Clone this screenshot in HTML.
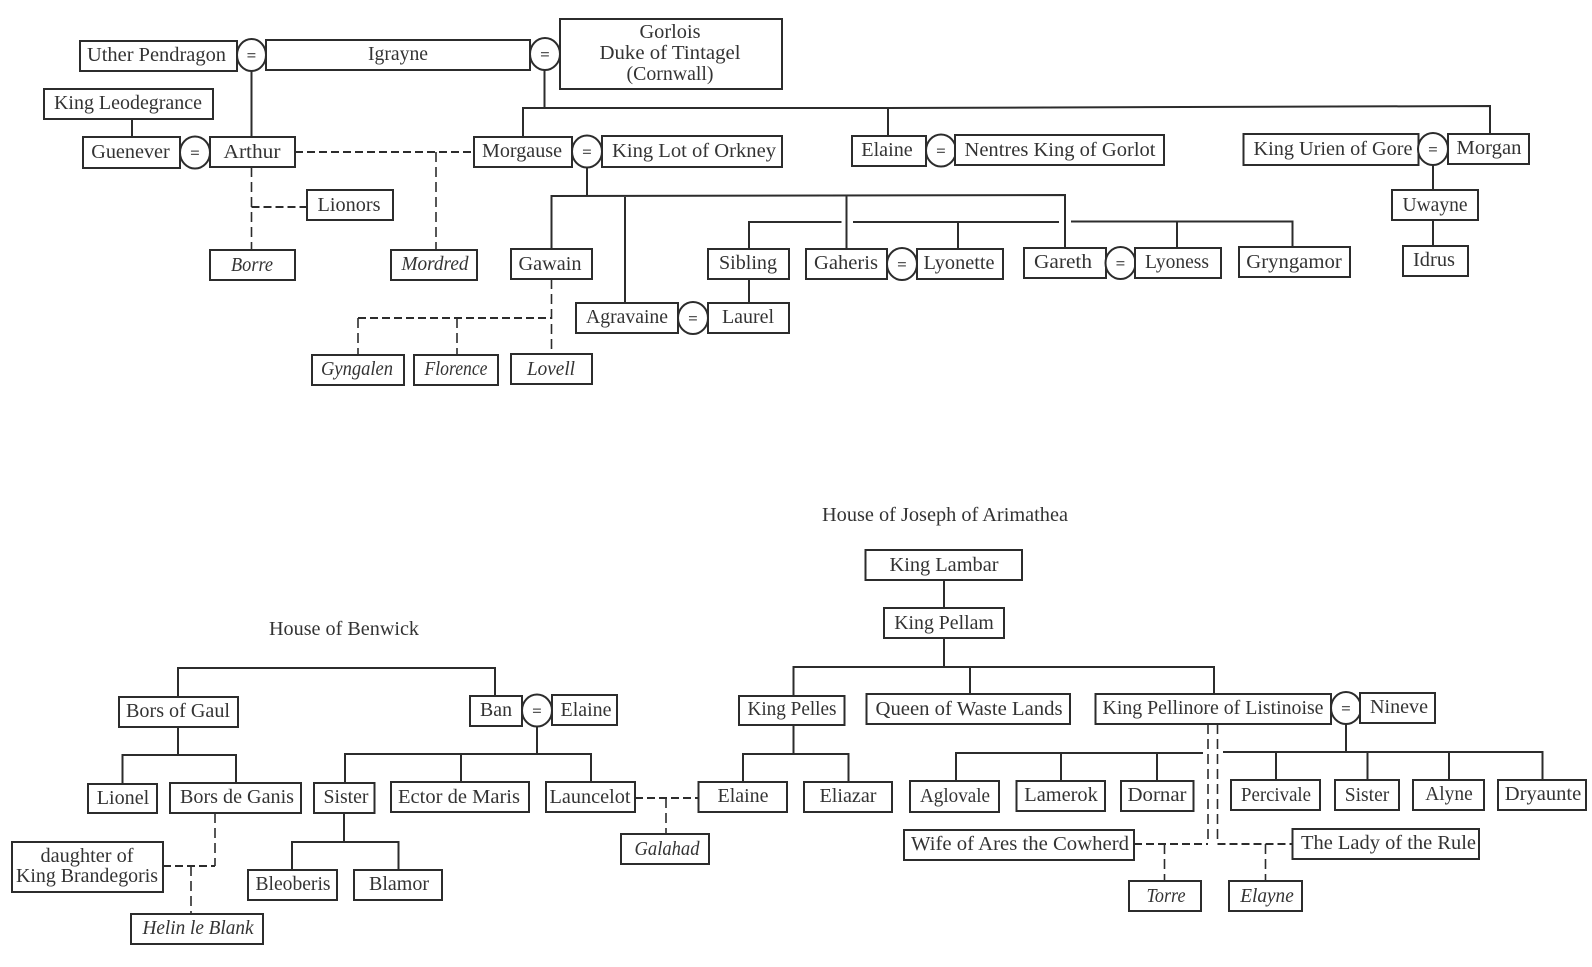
<!DOCTYPE html>
<html><head><meta charset="utf-8"><title>Arthurian family trees</title>
<style>
html,body{margin:0;padding:0;background:#fff;width:1592px;height:967px;overflow:hidden}
svg{display:block;filter:blur(.35px)}
text{font-family:"Liberation Serif",serif;font-size:20px;fill:#333;text-anchor:middle}
.i{font-style:italic}
.e{font-size:17px;font-weight:bold;fill:#555}
rect{fill:#fff;stroke:#2c2c2c;stroke-width:2}
ellipse{fill:#fff;stroke:#2c2c2c;stroke-width:2}
path{fill:none;stroke:#2c2c2c;stroke-width:2}
.d{stroke-dasharray:8 4}
.v{stroke-dasharray:10 5;stroke-width:1.6}
</style></head><body>
<svg width="1592" height="967" viewBox="0 0 1592 967" xmlns="http://www.w3.org/2000/svg">
<!-- solid connectors: top tree -->
<path d="M251.5 71V137M132 119V137M544.5 70V108M523 137V108L888 108L1490 106V133M888 108V136"/>
<path d="M587 167V196M551.5 249V196L1065 195V248M625 196V303M846.5 196V249"/>
<path d="M749 249V222H841.5M853 222H1059M1071 221.500H1292.500V247M958 222V248M1177 221.500V248M749 279V303"/>
<path d="M1433 164V190M1433 220V246"/>
<!-- dashed: top tree -->
<path class="d" d="M295 152H474"/>
<path class="v" d="M436 152V250"/>
<path class="v" d="M251.500 167V250"/>
<path class="d" d="M251.500 207H307"/>
<path class="v" d="M551.500 279V354"/>
<path class="d" d="M358 318H551.500"/>
<path class="v" d="M358 318V355M457 318V355"/>
<!-- Benwick connectors -->
<path d="M178 697V668H495V696M178 727V755M122.500 784V755H236V783"/>
<path d="M537 726V754M345 783V754H591V782M461 754V782M344 813V842M292 870V842H398.500V870"/>
<path class="v" d="M215 813V866M191 866V914"/>
<path class="d" d="M163 866H215"/>
<path class="d" d="M635 798H698"/>
<path class="v" d="M666 798V834"/>
<!-- Arimathea connectors -->
<path d="M944 580V608M944 638V667M793.500 696V667H1214V694M970 667V694"/>
<path d="M793.500 725V754M743 782V754H848.500V782"/>
<path d="M1346 723V752M1223 752H1542.500V780M1276 752V780M1367.500 752V780M1449 752V780"/>
<path d="M1203 753H956V781M1061 753V781M1157 753V781"/>
<path class="v" d="M1208 724V844M1217.500 724V844"/>
<path class="d" d="M1134 844H1208M1217.500 844H1292.500"/>
<path class="v" d="M1164.500 844V881M1265.500 844V881"/>

<!-- top tree boxes -->
<rect x="80" y="41" width="157" height="30"/><text x="156.500" y="61" textLength="139" lengthAdjust="spacingAndGlyphs">Uther Pendragon</text>
<ellipse cx="251.500" cy="55" rx="14.500" ry="16"/><text class="e" x="251.500" y="61">=</text>
<rect x="266" y="40" width="264" height="30"/><text x="398" y="60" textLength="60" lengthAdjust="spacingAndGlyphs">Igrayne</text>
<ellipse cx="545" cy="54" rx="15" ry="16"/><text class="e" x="545" y="60">=</text>
<rect x="560" y="19" width="222" height="70"/>
<text x="670" y="38" textLength="61" lengthAdjust="spacingAndGlyphs">Gorlois</text>
<text x="670" y="59" textLength="141" lengthAdjust="spacingAndGlyphs">Duke of Tintagel</text>
<text x="670" y="80" textLength="87" lengthAdjust="spacingAndGlyphs">(Cornwall)</text>
<rect x="44" y="89" width="169" height="30"/><text x="128" y="109" textLength="148" lengthAdjust="spacingAndGlyphs">King Leodegrance</text>
<rect x="83" y="137" width="97" height="31"/><text x="130.500" y="158" textLength="78.500" lengthAdjust="spacingAndGlyphs">Guenever</text>
<ellipse cx="195" cy="152.500" rx="15" ry="16"/><text class="e" x="195" y="158.500">=</text>
<rect x="210" y="137" width="85" height="30"/><text x="252" y="158" textLength="57" lengthAdjust="spacingAndGlyphs">Arthur</text>
<rect x="474" y="137" width="98" height="30"/><text x="522" y="157" textLength="80" lengthAdjust="spacingAndGlyphs">Morgause</text>
<ellipse cx="587" cy="151.500" rx="15" ry="16"/><text class="e" x="587" y="157.500">=</text>
<rect x="602" y="136" width="180" height="31"/><text x="694" y="157" textLength="164" lengthAdjust="spacingAndGlyphs">King Lot of Orkney</text>
<rect x="852" y="136" width="74" height="30"/><text x="887" y="156" textLength="51.500" lengthAdjust="spacingAndGlyphs">Elaine</text>
<ellipse cx="941" cy="150.500" rx="15" ry="16"/><text class="e" x="941" y="156.500">=</text>
<rect x="955" y="135" width="209" height="30"/><text x="1060" y="156" textLength="191" lengthAdjust="spacingAndGlyphs">Nentres King of Gorlot</text>
<rect x="1243.500" y="134" width="175" height="31"/><text x="1333" y="155" textLength="159" lengthAdjust="spacingAndGlyphs">King Urien of Gore</text>
<ellipse cx="1433" cy="149" rx="15" ry="16"/><text class="e" x="1433" y="155">=</text>
<rect x="1448" y="134" width="81" height="30"/><text x="1489" y="154" textLength="65" lengthAdjust="spacingAndGlyphs">Morgan</text>
<rect x="307" y="190" width="86" height="30"/><text x="349" y="211" textLength="63" lengthAdjust="spacingAndGlyphs">Lionors</text>
<rect x="1392" y="190" width="86" height="30"/><text x="1435" y="211" textLength="65" lengthAdjust="spacingAndGlyphs">Uwayne</text>
<rect x="1403" y="246" width="65" height="30"/><text x="1434" y="266" textLength="42" lengthAdjust="spacingAndGlyphs">Idrus</text>
<rect x="210" y="250" width="85" height="30"/><text class="i" x="252" y="271" textLength="42" lengthAdjust="spacingAndGlyphs">Borre</text>
<rect x="391" y="250" width="86" height="30"/><text class="i" x="435" y="270" textLength="67" lengthAdjust="spacingAndGlyphs">Mordred</text>
<rect x="511" y="249" width="81" height="30"/><text x="550" y="270" textLength="63" lengthAdjust="spacingAndGlyphs">Gawain</text>
<rect x="708" y="249" width="81" height="30"/><text x="748" y="269" textLength="58" lengthAdjust="spacingAndGlyphs">Sibling</text>
<rect x="806" y="249" width="81" height="30"/><text x="846" y="269" textLength="64" lengthAdjust="spacingAndGlyphs">Gaheris</text>
<ellipse cx="902" cy="264" rx="15" ry="16"/><text class="e" x="902" y="270">=</text>
<rect x="917" y="249" width="86" height="30"/><text x="959" y="269" textLength="71" lengthAdjust="spacingAndGlyphs">Lyonette</text>
<rect x="1024" y="248" width="82" height="30"/><text x="1063" y="268" textLength="58" lengthAdjust="spacingAndGlyphs">Gareth</text>
<ellipse cx="1120.500" cy="263" rx="15" ry="16"/><text class="e" x="1120.500" y="269">=</text>
<rect x="1135" y="248" width="86" height="30"/><text x="1177" y="268" textLength="64" lengthAdjust="spacingAndGlyphs">Lyoness</text>
<rect x="1239" y="247" width="111" height="30"/><text x="1294" y="268" textLength="95.500" lengthAdjust="spacingAndGlyphs">Gryngamor</text>
<rect x="576" y="303" width="102" height="30"/><text x="627" y="323" textLength="82" lengthAdjust="spacingAndGlyphs">Agravaine</text>
<ellipse cx="693" cy="318" rx="15" ry="16"/><text class="e" x="693" y="324">=</text>
<rect x="708" y="303" width="81" height="30"/><text x="748" y="323" textLength="52" lengthAdjust="spacingAndGlyphs">Laurel</text>
<rect x="312" y="355" width="92" height="30"/><text class="i" x="357" y="375" textLength="72" lengthAdjust="spacingAndGlyphs">Gyngalen</text>
<rect x="414" y="355" width="84" height="30"/><text class="i" x="456" y="375" textLength="63" lengthAdjust="spacingAndGlyphs">Florence</text>
<rect x="511" y="354" width="81" height="30"/><text class="i" x="551" y="375" textLength="48" lengthAdjust="spacingAndGlyphs">Lovell</text>

<!-- House of Benwick -->
<text x="344" y="635" textLength="150" lengthAdjust="spacingAndGlyphs">House of Benwick</text>
<rect x="119" y="697" width="119" height="30"/><text x="178" y="717" textLength="104" lengthAdjust="spacingAndGlyphs">Bors of Gaul</text>
<rect x="470" y="696" width="52" height="30"/><text x="496" y="716" textLength="32" lengthAdjust="spacingAndGlyphs">Ban</text>
<ellipse cx="537" cy="710.500" rx="15" ry="16"/><text class="e" x="537" y="716.500">=</text>
<rect x="552" y="695" width="65" height="30"/><text x="586" y="716" textLength="51" lengthAdjust="spacingAndGlyphs">Elaine</text>
<rect x="88" y="784" width="69" height="29"/><text x="123" y="804" textLength="52.500" lengthAdjust="spacingAndGlyphs">Lionel</text>
<rect x="170" y="783" width="131" height="30"/><text x="237" y="803" textLength="114" lengthAdjust="spacingAndGlyphs">Bors de Ganis</text>
<rect x="314" y="783" width="60.500" height="30"/><text x="346" y="803" textLength="45" lengthAdjust="spacingAndGlyphs">Sister</text>
<rect x="391" y="782" width="138" height="30"/><text x="459" y="803" textLength="122" lengthAdjust="spacingAndGlyphs">Ector de Maris</text>
<rect x="546" y="782" width="89" height="30"/><text x="590" y="803" textLength="81" lengthAdjust="spacingAndGlyphs">Launcelot</text>
<rect x="12" y="842" width="151" height="50"/>
<text x="87" y="862" textLength="93" lengthAdjust="spacingAndGlyphs">daughter of</text>
<text x="87" y="882" textLength="142" lengthAdjust="spacingAndGlyphs">King Brandegoris</text>
<rect x="248" y="870" width="89" height="30"/><text x="293" y="890" textLength="75" lengthAdjust="spacingAndGlyphs">Bleoberis</text>
<rect x="354" y="870" width="88" height="30"/><text x="399" y="890" textLength="60" lengthAdjust="spacingAndGlyphs">Blamor</text>
<rect x="131" y="914" width="132" height="30"/><text class="i" x="198" y="934" textLength="111" lengthAdjust="spacingAndGlyphs">Helin le Blank</text>
<rect x="621" y="834" width="88" height="30"/><text class="i" x="667" y="855" textLength="65" lengthAdjust="spacingAndGlyphs">Galahad</text>

<!-- House of Joseph of Arimathea -->
<text x="945" y="521" textLength="246" lengthAdjust="spacingAndGlyphs">House of Joseph of Arimathea</text>
<rect x="865.500" y="550" width="156.500" height="30"/><text x="944" y="571" textLength="109" lengthAdjust="spacingAndGlyphs">King Lambar</text>
<rect x="884" y="608" width="120" height="30"/><text x="944" y="629" textLength="99.500" lengthAdjust="spacingAndGlyphs">King Pellam</text>
<rect x="739" y="696" width="105.500" height="29"/><text x="792" y="715" textLength="89" lengthAdjust="spacingAndGlyphs">King Pelles</text>
<rect x="866.500" y="694" width="203.500" height="30"/><text x="969" y="715" textLength="187" lengthAdjust="spacingAndGlyphs">Queen of Waste Lands</text>
<rect x="1095.500" y="694" width="235.500" height="30"/><text x="1213" y="714" textLength="221" lengthAdjust="spacingAndGlyphs">King Pellinore of Listinoise</text>
<ellipse cx="1346" cy="708" rx="15" ry="16"/><text class="e" x="1346" y="714">=</text>
<rect x="1360" y="693" width="75" height="30"/><text x="1399" y="713" textLength="58" lengthAdjust="spacingAndGlyphs">Nineve</text>
<rect x="698.500" y="782" width="88.500" height="30"/><text x="743" y="802" textLength="51" lengthAdjust="spacingAndGlyphs">Elaine</text>
<rect x="804" y="782" width="88" height="30"/><text x="848" y="802" textLength="57" lengthAdjust="spacingAndGlyphs">Eliazar</text>
<rect x="910" y="781" width="89" height="31"/><text x="955" y="802" textLength="70" lengthAdjust="spacingAndGlyphs">Aglovale</text>
<rect x="1016.500" y="781" width="88.500" height="30"/><text x="1061" y="801" textLength="73.500" lengthAdjust="spacingAndGlyphs">Lamerok</text>
<rect x="1121" y="781" width="72.500" height="30"/><text x="1157" y="801" textLength="59" lengthAdjust="spacingAndGlyphs">Dornar</text>
<rect x="1231" y="780" width="89" height="30"/><text x="1276" y="801" textLength="70" lengthAdjust="spacingAndGlyphs">Percivale</text>
<rect x="1335" y="780" width="64" height="30"/><text x="1367" y="801" textLength="44.500" lengthAdjust="spacingAndGlyphs">Sister</text>
<rect x="1413" y="780" width="71" height="30"/><text x="1449" y="800" textLength="47.500" lengthAdjust="spacingAndGlyphs">Alyne</text>
<rect x="1498" y="780" width="88" height="30"/><text x="1543" y="800" textLength="76.500" lengthAdjust="spacingAndGlyphs">Dryaunte</text>
<rect x="904" y="830" width="230" height="30"/><text x="1020" y="850" textLength="218" lengthAdjust="spacingAndGlyphs">Wife of Ares the Cowherd</text>
<rect x="1292.500" y="829" width="186.500" height="30"/><text x="1388.500" y="849" textLength="175" lengthAdjust="spacingAndGlyphs">The Lady of the Rule</text>
<rect x="1129" y="881" width="72" height="30"/><text class="i" x="1166" y="902" textLength="39" lengthAdjust="spacingAndGlyphs">Torre</text>
<rect x="1229" y="881" width="73" height="30"/><text class="i" x="1267" y="902" textLength="53.500" lengthAdjust="spacingAndGlyphs">Elayne</text>
</svg>
</body></html>
